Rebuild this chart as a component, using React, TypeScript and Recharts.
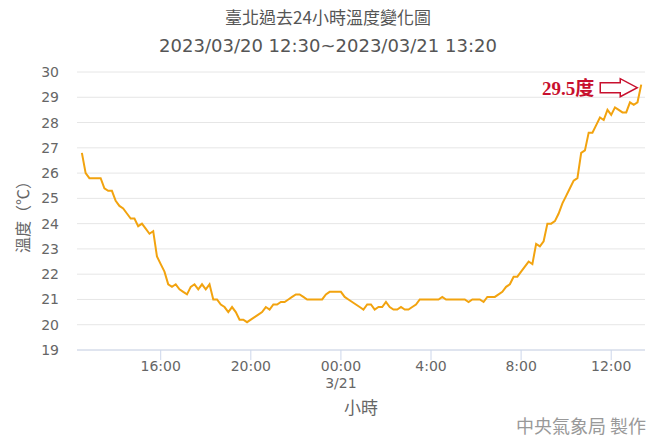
import React from 'react'
import { LineChart, Line, XAxis, YAxis, CartesianGrid, ReferenceDot } from 'recharts'

// 10-minute readings, 2023/03/20 12:30 -> 2023/03/21 13:20
const temps = [
  26.8, 26.0, 25.8, 25.8, 25.8, 25.8, 25.4, 25.3, 25.3, 24.9,
  24.7, 24.6, 24.4, 24.2, 24.2, 23.9, 24.0, 23.8, 23.6, 23.7,
  22.7, 22.4, 22.1, 21.6, 21.5, 21.6, 21.4, 21.3, 21.2, 21.5,
  21.6, 21.4, 21.6, 21.4, 21.6, 21.0, 21.0, 20.8, 20.7, 20.5,
  20.7, 20.5, 20.2, 20.2, 20.1, 20.2, 20.3, 20.4, 20.5, 20.7,
  20.6, 20.8, 20.8, 20.9, 20.9, 21.0, 21.1, 21.2, 21.2, 21.1,
  21.0, 21.0, 21.0, 21.0, 21.0, 21.2, 21.3, 21.3, 21.3, 21.3,
  21.1, 21.0, 20.9, 20.8, 20.7, 20.6, 20.8, 20.8, 20.6, 20.7,
  20.7, 20.9, 20.7, 20.6, 20.6, 20.7, 20.6, 20.6, 20.7, 20.8,
  21.0, 21.0, 21.0, 21.0, 21.0, 21.0, 21.1, 21.0, 21.0, 21.0,
  21.0, 21.0, 21.0, 20.9, 21.0, 21.0, 21.0, 20.9, 21.1, 21.1,
  21.1, 21.2, 21.3, 21.5, 21.6, 21.9, 21.9, 22.1, 22.3, 22.5,
  22.4, 23.2, 23.1, 23.3, 24.0, 24.0, 24.1, 24.4, 24.8, 25.1,
  25.4, 25.7, 25.8, 26.8, 26.9, 27.6, 27.6, 27.9, 28.2, 28.1,
  28.5, 28.3, 28.6, 28.5, 28.4, 28.4, 28.8, 28.7, 28.8, 29.5,
]

// tick positions as 10-minute step index from 12:30
const xTicks = [21, 45, 69, 93, 117, 141]
const xTickLabels = ['16:00', '20:00', '00:00', '4:00', '8:00', '12:00']
const xTickSubLabels = ['', '', '3/21', '', '', '']
const yTicks = [19, 20, 21, 22, 23, 24, 25, 26, 27, 28, 29, 30]

const data = temps.map((v, i) => ({ i, v }))
const last = data[data.length - 1]

const FONT = '"Noto Sans CJK TC", "Noto Sans", sans-serif'
const NUM_FONT = '"DejaVu Sans", sans-serif'

const XTick = ({ x, y, payload }: any) => {
  const k = xTicks.indexOf(payload.value)
  return (
    <g>
      <text x={x} y={y + 9} textAnchor="middle" fill="#666" fontSize={14} fontFamily={NUM_FONT}>
        {xTickLabels[k]}
      </text>
      {xTickSubLabels[k] && (
        <text x={x} y={y + 26} textAnchor="middle" fill="#666" fontSize={14} fontFamily={NUM_FONT}>
          {xTickSubLabels[k]}
        </text>
      )}
    </g>
  )
}

const LastMark = ({ cx, cy }: any) => (
  <g>
    <text x={cx - 47} y={cy + 10} textAnchor="end" fill="#c8102e" fontSize={19} fontWeight="bold"
      fontFamily='"Liberation Serif", "Noto Sans CJK TC", serif'>
      29.5度
    </text>
    <path
      d={`M${cx - 41},${cy - 2} L${cx - 21},${cy - 2} L${cx - 21},${cy - 6} L${cx - 4},${cy + 3} L${cx - 21},${cy + 12} L${cx - 21},${cy + 8} L${cx - 41},${cy + 8} Z`}
      fill="#fff" stroke="#c8102e" strokeWidth={1.5}
    />
  </g>
)

export default function App() {
  document.body.style.margin = '0'
  return (
    <div style={{ position: 'relative', width: 656, height: 437, background: '#fff', fontFamily: FONT }}>
      <div style={{ position: 'absolute', top: 4, width: '100%', textAlign: 'center', fontSize: 17, color: '#555' }}>
        臺北過去24小時溫度變化圖
      </div>
      <div style={{ position: 'absolute', top: 35, width: '100%', textAlign: 'center', fontSize: 18, color: '#555', fontFamily: NUM_FONT }}>
        2023/03/20 12:30~2023/03/21 13:20
      </div>
      <div style={{ position: 'absolute', left: 361, top: 406, transform: 'translate(-50%, -50%)', fontSize: 17, color: '#666' }}>小時</div>
      <div style={{ position: 'absolute', right: 10, top: 412, fontSize: 18, color: '#999' }}>中央氣象局 製作</div>
      <div style={{
        position: 'absolute', left: 22, top: 213, transform: 'translate(-50%, -50%) rotate(-90deg)',
        fontSize: 16, color: '#666', whiteSpace: 'nowrap'
      }}>
        溫度（℃）
      </div>
      <LineChart width={656} height={437} data={data} margin={{ top: 72, right: 11, bottom: 0, left: 0 }}>
        <CartesianGrid horizontal vertical={false} stroke="#e6e6e6" />
        <XAxis
          dataKey="i"
          type="number"
          domain={[-1.3, 150]}
          ticks={xTicks}
          tick={<XTick />}
          tickSize={10}
          tickLine={{ stroke: '#ccd6eb' }}
          axisLine={{ stroke: '#ccd6eb' }}
          height={87}
          interval={0}
        />
        <YAxis
          domain={[19, 30]}
          ticks={yTicks}
          width={77}
          tickSize={0}
          tickMargin={18}
          axisLine={false}
          tick={{ fill: '#666', fontSize: 14, fontFamily: NUM_FONT }}
          interval={0}
        />
        <Line
          type="linear"
          dataKey="v"
          stroke="#f2a30f"
          strokeWidth={2}
          dot={false}
          isAnimationActive={false}
        />
        <ReferenceDot x={last.i} y={last.v} r={0} shape={<LastMark />} />
      </LineChart>
    </div>
  )
}
